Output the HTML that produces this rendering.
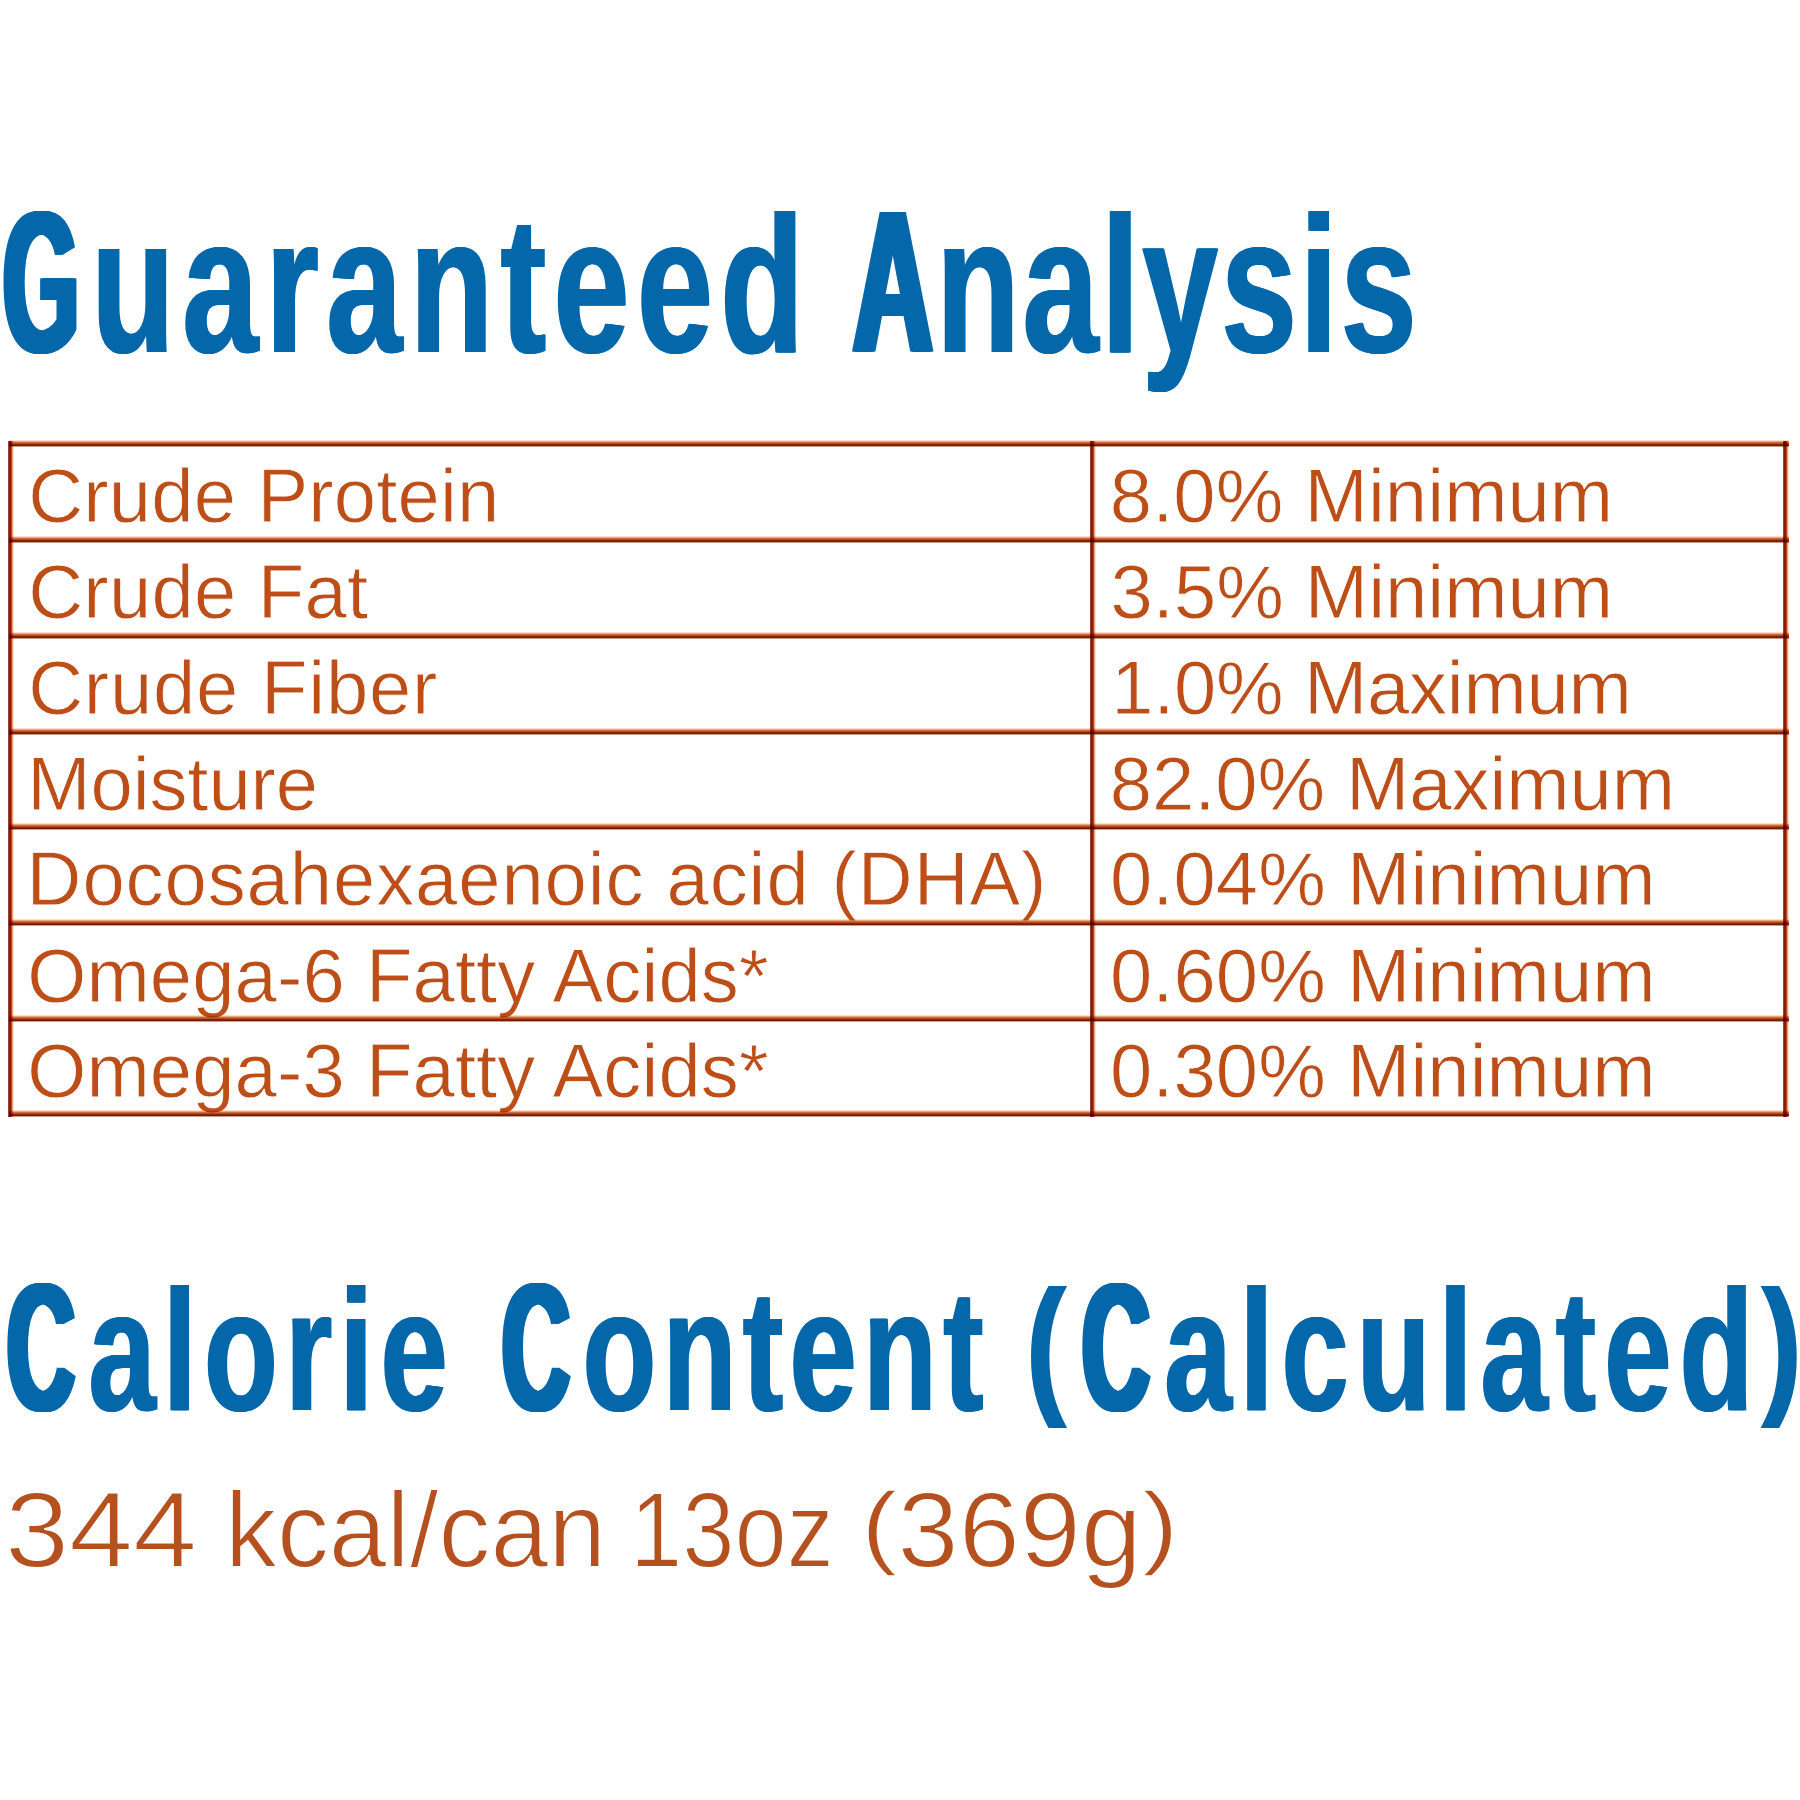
<!DOCTYPE html>
<html lang="en">
<head>
<meta charset="utf-8">
<title>Guaranteed Analysis</title>
<style>
  html, body { margin:0; padding:0; background:#fff; }
  body { width:1800px; height:1800px; position:relative; overflow:hidden;
         font-family:"Liberation Sans", sans-serif; }
  .hd { position:absolute; margin:0; left:0; top:0; white-space:nowrap; font-weight:bold;
        font-family:"Liberation Sans", sans-serif; color:#0467aa; line-height:1; text-shadow:1.5px 0 0 currentColor,-1.5px 0 0 currentColor; }
  .hd span, #cal span, .cell { position:absolute; display:block; white-space:nowrap; line-height:1; }
  .hd span, #cal span { transform-origin:0 0; }
  .hd b { display:inline-block; line-height:0; font-size:103.6%; transform-origin:0 100%; text-shadow:7px 0 0 currentColor,-7px 0 0 currentColor,5.25px 0 0 currentColor,-5.25px 0 0 currentColor,3.5px 0 0 currentColor,-3.5px 0 0 currentColor,1.75px 0 0 currentColor,-1.75px 0 0 currentColor; }
  .hd b.kG { transform:scaleX(0.69); margin-right:calc(-0.2411em + 7px); margin-left:0px; }
  .hd b.kA { transform:scaleX(0.78); margin-right:calc(-0.1589em + 1px); margin-left:0px; }
  .hd b.kC { transform:scaleX(0.735); margin-right:calc(-0.1914em + 9px); margin-left:0px; }
  .hd i, #cal i { font-style:normal; display:inline-block; transform-origin:50% 12.2%; }
  .hd i { transform:scaleY(0.884); }
  #cal i { transform:scaleY(0.87); }
  .hd i.po { margin-right:11px; }
  #h1 { font-size:195px; }
  #h2 { font-size:172.5px; }
  #h2 b { font-size:105.8%; }
  #a1 { left:3.00px; top:186.93px; transform:scaleX(0.7); letter-spacing:10.73px; }
  #a2 { left:853.00px; top:186.93px; transform:scaleX(0.7); letter-spacing:4.14px; }
  #b1 { left:6.80px; top:1264.68px; transform:scaleX(0.7); letter-spacing:10.57px; }
  #b2 { left:501.80px; top:1264.68px; transform:scaleX(0.7); letter-spacing:9.15px; }
  #b3 { left:1026.20px; top:1264.68px; transform:scaleX(0.7); letter-spacing:11.69px; }
  #ga { position:absolute; left:0; top:0; width:1800px; height:1200px; margin:0; }
  .hl, .vl { position:absolute; display:block; mix-blend-mode:multiply; }
  .hl { left:9px; width:1780px; height:7px; background:linear-gradient(to bottom,#fde0cc 0px 1px,#eaa583 1px 2px,#d06a40 2px 3px,#b84a1c 3px 4px,#8a2806 4px 5px,#761c00 5px 6px,#c9a094 6px 7px); }
  .vl { top:441px; height:676px; width:6px; background:linear-gradient(to right,#94443c 0px 1px,#8a1804 1px 2px,#941e04 2px 3px,#b8461f 3px 4px,#e8a482 4px 5px,#fde4d2 5px 6px); }
  table { position:absolute; left:0; top:0; width:1800px; border-collapse:collapse; font-size:76px; color:#be4e17; -webkit-text-stroke:0.8px #fff; }
  td { padding:0; height:0; }
  #cal { position:absolute; margin:0; left:0; top:0; font-size:107px; color:#b5501f; line-height:1; white-space:nowrap; -webkit-text-stroke:1.8px #fff; }
  #c1 { left:4.72px; top:1476.92px; letter-spacing:0px; transform:scaleX(1.0751); }
  #c2 { left:225.30px; top:1476.92px; letter-spacing:0px; transform:scaleX(0.9706); }
  #c3 { left:629.96px; top:1476.92px; letter-spacing:0px; transform:scaleX(0.8782); }
  #c4 { left:860.85px; top:1476.92px; letter-spacing:0px; transform:scaleX(1.0266); }
</style>
</head>
<body>
<h1 class="hd" id="h1"><span id="a1"><b class="kG">G</b>uaranteed</span> <span id="a2"><b class="kA">A</b>nalysis</span></h1>
<div id="ga">
<table>
<tr><td><span class="cell" style="left:28.20px;top:457.67px;letter-spacing:0.189px">Crude Protein</span></td><td><span class="cell" style="left:1109.80px;top:457.67px;letter-spacing:0.073px">8.0% Minimum</span></td></tr>
<tr><td><span class="cell" style="left:28.20px;top:553.67px;letter-spacing:0.25px">Crude Fat</span></td><td><span class="cell" style="left:1110.50px;top:553.67px;letter-spacing:-0.0px">3.5% Minimum</span></td></tr>
<tr><td><span class="cell" style="left:28.20px;top:649.67px;letter-spacing:0.786px">Crude Fiber</span></td><td><span class="cell" style="left:1111.20px;top:649.67px;letter-spacing:-0.287px">1.0% Maximum</span></td></tr>
<tr><td><span class="cell" style="left:27.36px;top:745.67px;letter-spacing:-0.112px">Moisture</span></td><td><span class="cell" style="left:1109.80px;top:745.67px;letter-spacing:-0.067px">82.0% Maximum</span></td></tr>
<tr><td><span class="cell" style="left:26.60px;top:841.27px;letter-spacing:0.914px">Docosahexaenoic acid (DHA)</span></td><td><span class="cell" style="left:1110.00px;top:841.27px;letter-spacing:0.067px">0.04% Minimum</span></td></tr>
<tr><td><span class="cell" style="left:27.20px;top:937.67px;letter-spacing:0.11px">Omega-6 Fatty Acids*</span></td><td><span class="cell" style="left:1110.00px;top:937.67px;letter-spacing:0.067px">0.60% Minimum</span></td></tr>
<tr><td><span class="cell" style="left:27.20px;top:1032.97px;letter-spacing:0.11px">Omega-3 Fatty Acids*</span></td><td><span class="cell" style="left:1110.00px;top:1032.97px;letter-spacing:0.067px">0.30% Minimum</span></td></tr>
</table>
<i class="vl" style="left:8px"></i>
<i class="vl" style="left:1090px"></i>
<i class="vl" style="left:1783px"></i>
<i class="hl" style="top:440px"></i>
<i class="hl" style="top:536px"></i>
<i class="hl" style="top:632px"></i>
<i class="hl" style="top:728px"></i>
<i class="hl" style="top:823px"></i>
<i class="hl" style="top:919px"></i>
<i class="hl" style="top:1015px"></i>
<i class="hl" style="top:1110px"></i>
</div>
<h2 class="hd" id="h2"><span id="b1"><b class="kC">C</b>alorie</span> <span id="b2"><b class="kC">C</b>ontent</span> <span id="b3"><i class="po">(</i><b class="kC">C</b>alculated<i class="pc">)</i></span></h2>
<p id="cal"><span id="c1">344</span> <span id="c2">kcal/can</span> <span id="c3">13oz</span> <span id="c4"><i>(</i>369g<i>)</i></span></p>
</body>
</html>
